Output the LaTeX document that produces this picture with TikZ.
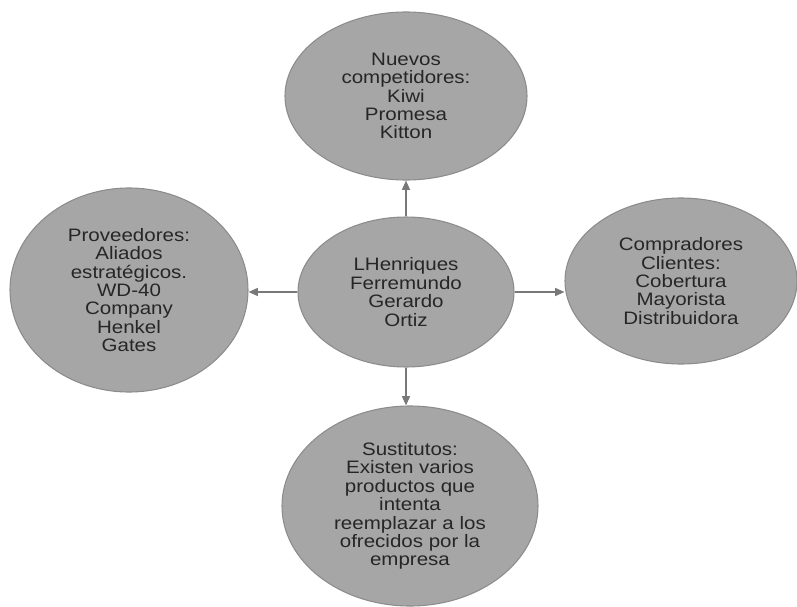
\documentclass[tikz,border=0pt]{standalone}
\usepackage{fontspec}
\setmainfont{Liberation Sans}
\newfontfamily\diagfont[FakeStretch=1.14]{Liberation Sans}
\usetikzlibrary{shapes.geometric,arrows.meta}
\definecolor{bubblefill}{RGB}{166,166,166}
\definecolor{bubbleline}{RGB}{140,140,140}
\definecolor{linkgray}{RGB}{120,120,120}
\tikzset{
  bubble/.style={ellipse, draw=bubbleline, fill=bubblefill, line width=0.8pt,
    inner sep=0pt, align=center, text=black!85,
    font=\diagfont\fontsize{13.5}{13.8}\selectfont},
  link/.style={draw=linkgray, line width=1.1pt, -{Triangle[length=7pt,width=6pt]}}
}
\begin{document}
\begin{tikzpicture}[x=0.75pt,y=-0.75pt]
    \useasboundingbox (0,0) rectangle (797,607);
    % centre and the four forces
    \node[bubble, minimum width=162pt, minimum height=112.5pt] (empresa) at (406,292) {LHenriques\\Ferremundo\\Gerardo\\Ortiz};
    \node[bubble, minimum width=181.5pt, minimum height=126pt] (nuevos) at (406,96) {Nuevos\\competidores:\\Kiwi\\Promesa\\Kitton};
    \node[bubble, minimum width=178.5pt, minimum height=153pt] (proveedores) at (129,290) {Proveedores:\\Aliados\\estrat\'egicos.\\WD-40\\Company\\Henkel\\Gates};
    \node[bubble, minimum width=174pt, minimum height=124.5pt] (compradores) at (681,281) {Compradores\\Clientes:\\Cobertura\\Mayorista\\Distribuidora};
    \node[bubble, minimum width=192pt, minimum height=150pt] (sustitutos) at (410,506) {Sustitutos:\\Existen varios\\productos que\\intenta\\reemplazar a los\\ofrecidos por la\\empresa};
    % connectors
    \draw[link] (empresa.north) -- (nuevos.south);
    \draw[link] (empresa.west) -- (proveedores.east |- empresa.west);
    \draw[link] (empresa.east) -- (compradores.west |- empresa.east);
    \draw[link] (empresa.south) -- (sustitutos.north -| empresa.south);
\end{tikzpicture}
\end{document}
